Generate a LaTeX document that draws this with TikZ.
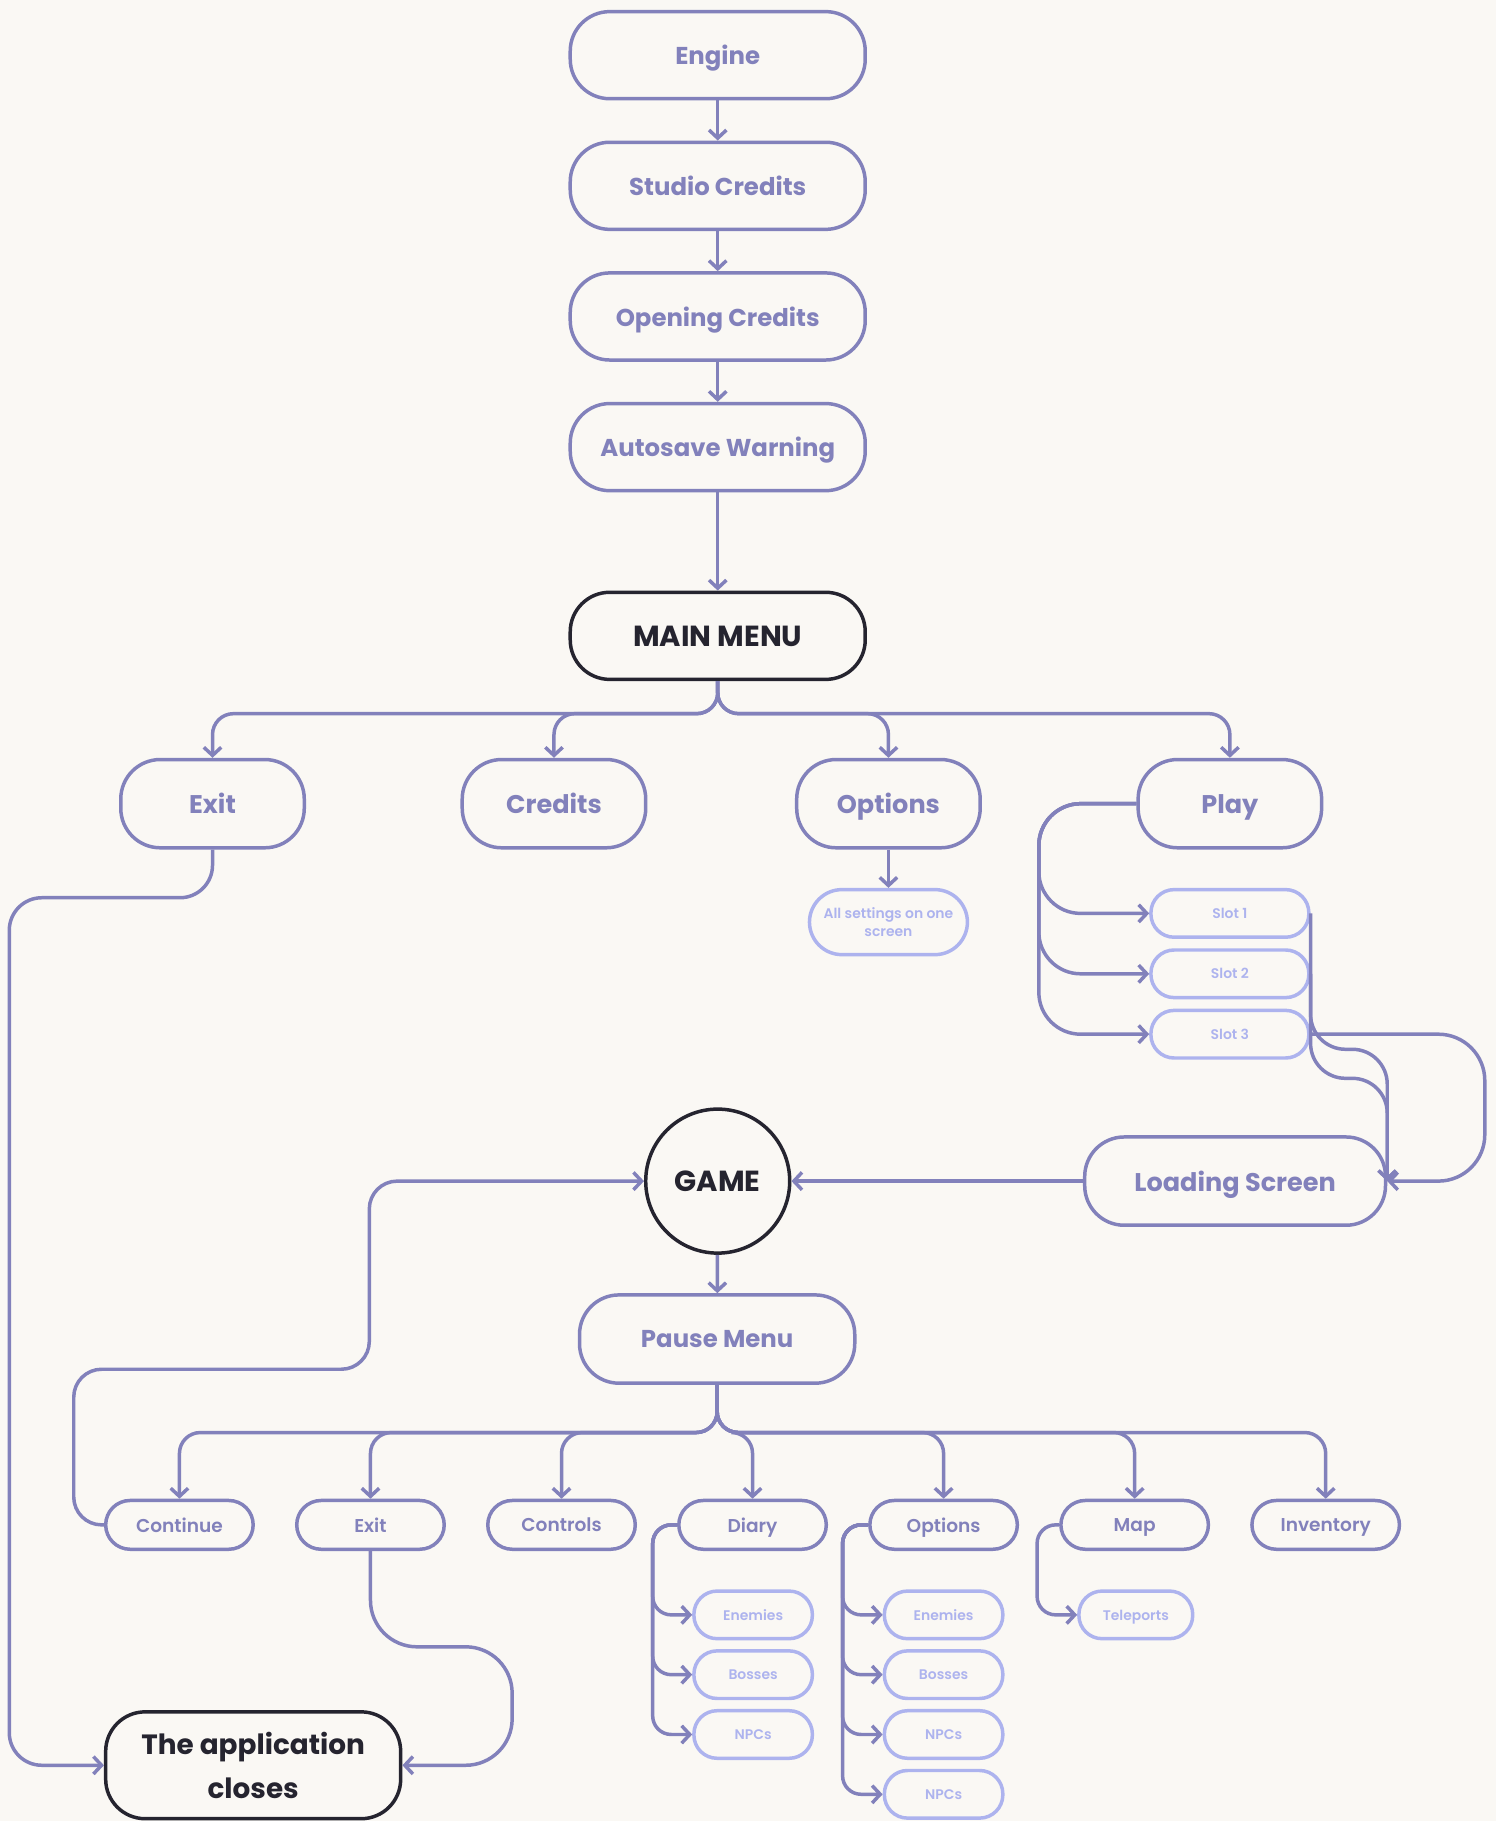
\documentclass[tikz,border=0pt]{standalone}
\usepackage{fontspec}
\setmainfont{Poppins}
\newfontfamily\semi{Poppins SemiBold}
\newfontfamily\heavy{Poppins Bold}
\usetikzlibrary{positioning,arrows.meta}
\definecolor{lav}{HTML}{8281BB}
\definecolor{lilac}{HTML}{ADB3EE}
\definecolor{ink}{HTML}{25242F}
\definecolor{paper}{HTML}{FAF8F4}
\begin{document}
\begin{tikzpicture}[x=0.5pt, y=-0.5pt, node distance=56.25pt,
    >={Straight Barb[length=3.5pt,width=7.5pt]},
    stage/.style = {draw=lav, text=lav, line width=1.5pt, rounded corners=17pt, minimum width=127pt, minimum height=37.5pt, inner sep=2pt, execute at begin node={\vphantom{A}}, text depth=0pt, font=\heavy\fontsize{10.5}{12}\selectfont},
    key/.style = {stage, draw=ink, text=ink, font=\heavy\fontsize{12.5}{14}\selectfont},
    choice/.style = {stage, minimum width=79pt, minimum height=38pt, font=\heavy\fontsize{11}{13}\selectfont},
    slot/.style = {stage, draw=lilac, text=lilac, minimum width=68pt, minimum height=20.5pt, rounded corners=10pt, font=\semi\fontsize{6}{8}\selectfont},
    pauseitem/.style = {stage, minimum width=63.5pt, minimum height=21pt, rounded corners=10.5pt, font=\semi\fontsize{8}{9}\selectfont},
    leaf/.style = {slot, minimum width=51pt},
    link/.style = {draw=lav, line width=1.5pt, ->, rounded corners=9pt}]
    \fill[paper] (0,0) rectangle (1288,1568);
    \useasboundingbox (0,0) rectangle (1288,1568);
    % start up
    \node[stage] (engine) at (618,47.5) {Engine};
    \node[stage, below of=engine] (studio) {Studio Credits};
    \node[stage, below of=studio] (opening) {Opening Credits};
    \node[stage, below of=opening] (autosave) {Autosave Warning};
    \node[key, below of=autosave, node distance=81.25pt] (mainmenu) {MAIN MENU};
    % main menu
    \node[choice] (quit) at (183,692) {Exit};
    \node[choice] (credits) at (477,692) {Credits};
    \node[choice] (settings) at (765,692) {Options};
    \node[choice] (play) at (1059,692) {Play};
    \node[slot, minimum height=28pt, rounded corners=14pt, align=center] (allsettings) at (765,794) {All settings on one\\screen};
    \node[slot] (slot1) at (1059,786.5) {Slot 1};
    \node[slot, below of=slot1, node distance=26pt] (slot2) {Slot 2};
    \node[slot, below of=slot2, node distance=26pt] (slot3) {Slot 3};
    \node[stage, minimum width=129.5pt, minimum height=38pt, font=\heavy\fontsize{11}{13}\selectfont] (loading) at (1063.5,1017) {Loading Screen};
    \node[circle, draw=ink, text=ink, line width=1.5pt, minimum size=62pt, inner sep=0pt, font=\heavy\fontsize{12.5}{14}\selectfont] (game) at (618,1017) {GAME};
    \node[stage, minimum width=118.5pt, minimum height=38pt] (pause) at (617.5,1153) {Pause Menu};
    % pause menu
    \node[pauseitem] (continue) at (154.5,1313) {Continue};
    \node[pauseitem, right of=continue, node distance=82.25pt] (leave) {Exit};
    \node[pauseitem, right of=leave, node distance=82.25pt] (controls) {Controls};
    \node[pauseitem, right of=controls, node distance=82.25pt] (diary) {Diary};
    \node[pauseitem, right of=diary, node distance=82.25pt] (gameopts) {Options};
    \node[pauseitem, right of=gameopts, node distance=82.25pt] (map) {Map};
    \node[pauseitem, right of=map, node distance=82.25pt] (inventory) {Inventory};
    \node[leaf] (dEnemies) at (648.5,1390.5) {Enemies};
    \node[leaf, below of=dEnemies, node distance=25.75pt] (dBosses) {Bosses};
    \node[leaf, below of=dBosses, node distance=25.75pt] (dNPCs) {NPCs};
    \node[leaf] (oEnemies) at (812.5,1390.5) {Enemies};
    \node[leaf, below of=oEnemies, node distance=25.75pt] (oBosses) {Bosses};
    \node[leaf, below of=oBosses, node distance=25.75pt] (oNPCs) {NPCs};
    \node[leaf, below of=oNPCs, node distance=25.75pt] (oNPCsb) {NPCs};
    \node[leaf, minimum width=49pt] (teleports) at (978,1390.5) {Teleports};
    \node[key, minimum height=46pt, align=center, font=\heavy\fontsize{12}{19}\selectfont] (closes) at (218,1520) {The application\\closes};
    \coordinate (leftrail) at (8,773);
    \coordinate (rightrail) at (441,1418);
    \coordinate (backbend) at (318,1179);

    \draw[link] (engine) -- (studio);
    \draw[link] (studio) -- (opening);
    \draw[link] (opening) -- (autosave);
    \draw[link] (autosave) -- (mainmenu);
    \draw[link] (mainmenu.south) -- ++(0,28) -| (quit.north);
    \draw[link] (mainmenu.south) -- ++(0,28) -| (credits.north);
    \draw[link] (mainmenu.south) -- ++(0,28) -| (settings.north);
    \draw[link] (mainmenu.south) -- ++(0,28) -| (play.north);
    \draw[link] (settings) -- (allsettings);
    \draw[link, rounded corners=18pt] (play.west) -- ++(-84,0) |- (slot1.west);
    \draw[link, rounded corners=18pt] (play.west) -- ++(-84,0) |- (slot2.west);
    \draw[link, rounded corners=18pt] (play.west) -- ++(-84,0) |- (slot3.west);
    \draw[link, rounded corners=15pt] (slot1.east) -- ++(0,117) -| (loading.east);
    \draw[link, rounded corners=15pt] (slot2.east) -- ++(0,90) -| (loading.east);
    \draw[link, rounded corners=20pt] (slot3.east) -- ++(150,0) |- (loading.east);
    \draw[link] (loading) -- (game);
    \draw[link] (game) -- (pause);
    \draw[link, rounded corners=14pt] (quit.south) |- (leftrail) |- (closes.west);
    \draw[link] (pause.south) -- ++(0,41) -| (continue.north);
    \draw[link] (pause.south) -- ++(0,41) -| (leave.north);
    \draw[link] (pause.south) -- ++(0,41) -| (controls.north);
    \draw[link] (pause.south) -- ++(0,41) -| (diary.north);
    \draw[link] (pause.south) -- ++(0,41) -| (gameopts.north);
    \draw[link] (pause.south) -- ++(0,41) -| (map.north);
    \draw[link] (pause.south) -- ++(0,41) -| (inventory.north);
    \draw[link, rounded corners=12pt] (continue.west) -- ++(-26,0) |- (backbend) |- (game.west);
    \draw[link, rounded corners=20pt] (leave.south) |- (rightrail) |- (closes.east);
    \draw[link, rounded corners=8pt] (diary.west) -- ++(-21,0) |- (dEnemies.west);
    \draw[link, rounded corners=8pt] (diary.west) -- ++(-21,0) |- (dBosses.west);
    \draw[link, rounded corners=8pt] (diary.west) -- ++(-21,0) |- (dNPCs.west);
    \draw[link, rounded corners=8pt] (gameopts.west) -- ++(-22,0) |- (oEnemies.west);
    \draw[link, rounded corners=8pt] (gameopts.west) -- ++(-22,0) |- (oBosses.west);
    \draw[link, rounded corners=8pt] (gameopts.west) -- ++(-22,0) |- (oNPCs.west);
    \draw[link, rounded corners=8pt] (gameopts.west) -- ++(-22,0) |- (oNPCsb.west);
    \draw[link, rounded corners=8pt] (map.west) -- ++(-19,0) |- (teleports.west);
\end{tikzpicture}
\end{document}
